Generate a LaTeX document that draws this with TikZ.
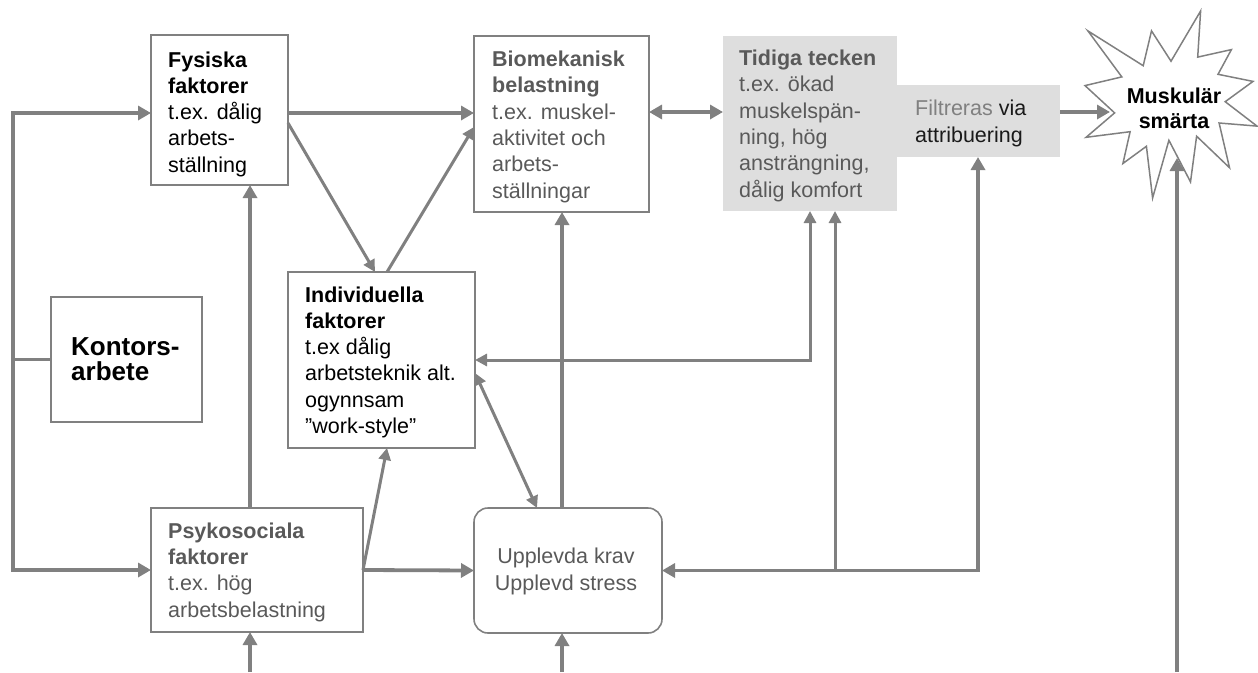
\documentclass[tikz,border=0pt]{standalone}
\usepackage{fontspec}
\setmainfont{Liberation Sans}
\usetikzlibrary{arrows.meta,calc}
\definecolor{lg}{HTML}{808080}
\definecolor{tg}{HTML}{595959}
\definecolor{fg}{HTML}{DEDEDE}
\definecolor{dk}{HTML}{1A1A1A}
\begin{document}
\begin{tikzpicture}[x=1pt,y=-1pt,
  box/.style={draw=lg, line width=1.6pt, rectangle, inner sep=0pt, outer sep=0pt},
  gbox/.style={fill=fg, draw=none, rectangle, inner sep=0pt, outer sep=0pt},
  txt/.style={inner sep=0pt, anchor=base west, align=left, font=\fontsize{21.5}{26.3}\selectfont},
  con/.style={draw=lg, line width=3.8pt},
  mid/.style={draw=lg, line width=3pt},
  tipA/.tip={Triangle[length=13pt,width=14pt]},
  tipB/.tip={Triangle[length=12pt,width=12pt]},
  arr/.style={con, -tipA},
  arrm/.style={mid, -tipB},
  dblm/.style={mid, tipB-tipB},
  dbl/.style={con, tipA-tipA}
]
\useasboundingbox (0,0) rectangle (1258,672);

% grey shapes
\node[gbox, minimum width=163pt, minimum height=72pt] (fil) at (978.5,121) {};
\node[gbox, minimum width=174pt, minimum height=175pt] (tid) at (810,123.5) {};

% boxes
\node[box, minimum width=137pt, minimum height=150pt] (fys) at (219.5,110) {};
\node[box, minimum width=175pt, minimum height=176pt] (bio) at (561.5,124) {};
\node[box, line width=2.8pt, minimum width=151pt, minimum height=125pt] (kon) at (126.5,359.5) {};
\node[box, minimum width=187pt, minimum height=176pt] (ind) at (381.5,360) {};
\node[box, minimum width=212pt, minimum height=124pt] (psy) at (257,570) {};
\node[box, rounded corners=14pt, minimum width=188pt, minimum height=125pt] (upp) at (568,570.5) {};

% star
\draw[draw=lg, line width=1.5pt, fill=white, line join=miter]
  (1171.0,61.2) -- (1200.6,11) -- (1197.7,57.1) -- (1231.4,49.6) -- (1218.0,74.3)
  -- (1253.0,81.4) -- (1225.2,101.7) -- (1257,126.1) -- (1219.1,123.0)
  -- (1229.5,167.7) -- (1196.6,136.2) -- (1190.5,181.9) -- (1168.9,140.3)
  -- (1152.6,198) -- (1146.4,146.3) -- (1122.9,163.5) -- (1130.1,131.7)
  -- (1086.1,137.3) -- (1114.6,112.9) -- (1085,85.6) -- (1121.8,76.9)
  -- (1087.9,30.9) -- (1143.2,65.7) -- (1151.5,30.9) -- cycle;

% texts (anchored at the baseline of the last line)
\node[txt] (fyst) at (168,172.2) {\textbf{Fysiska}\\\textbf{faktorer}\\t.ex. dålig\\arbets-\\ställning};
\node[txt, text=tg] (biot) at (492,198) {\textbf{Biomekanisk}\\\textbf{belastning}\\t.ex. muskel-\\aktivitet och\\arbets-\\ställningar};
\node[txt, text=tg] (tidt) at (739,197) {\textbf{Tidiga tecken}\\t.ex. ökad\\muskelspän-\\ning, hög\\ansträngning,\\dålig komfort};
\node[txt, text=dk] (filt) at (915,142) {\textcolor{lg}{Filtreras} via\\attribuering};
\node[txt] (indt) at (305,433.5) {\textbf{Individuella}\\\textbf{faktorer}\\t.ex dålig\\arbetsteknik alt.\\ogynnsam\\”work-style”};
\node[txt, text=tg] (psyt) at (168,617) {\textbf{Psykosociala}\\\textbf{faktorer}\\t.ex. hög\\arbetsbelastning};
\node[txt, font=\fontsize{26}{25}\selectfont\bfseries] (kont) at (71,380) {Kontors-\\arbete};
\node[inner sep=0pt, anchor=base, align=center, text=tg, font=\fontsize{21.5}{27}\selectfont] (uppt) at (566,590) {Upplevda krav\\Upplevd stress};
\node[inner sep=0pt, anchor=base, align=center, font=\fontsize{21.5}{25}\selectfont\bfseries] (must) at (1174,128) {Muskulär\\smärta};

% helper coordinates
\coordinate (bot) at (0,672);
\coordinate (tl) at (13,113);
\coordinate (bl) at (13,570);
\coordinate (ya) at (0,112);
\coordinate (xa) at (250,0);
\coordinate (xb) at (562,0);
\coordinate (xc) at (810,0);
\coordinate (xd) at (835,0);
\coordinate (xe) at (978,0);
\coordinate (xf) at (1177,0);
\coordinate (starL) at (1110,112);
\coordinate (starB) at (1177,158);

% connectors
\draw[dbl] (tl -| fys.west) -- (tl) -- (bl) -- (psy.west);
\draw[con] (kon.west) -- (kon.west -| tl);
\draw[arr] (tl -| fys.east) -- (tl -| bio.west);
\draw[arrm] ([yshift=-13pt]fys.east) -- ([xshift=-6.5pt]ind.north);
\draw[arrm] ([xshift=5.5pt]ind.north) -- ([yshift=-3pt]bio.west);
\draw[arr] (xa |- psy.north) -- (xa |- fys.south);
\draw[arr] (xa |- bot) -- (xa |- psy.south);
\draw[arrm] (psy.east) -- ([xshift=5.5pt]ind.south);
\draw[arr] (psy.east) -- (upp.west);
\draw[dblm] ([yshift=-13pt]ind.east) -- ([xshift=-31pt]upp.north);
\draw[arr] (xb |- upp.north) -- (xb |- bio.south);
\draw[arr] (xb |- bot) -- (xb |- upp.south);
\draw[dblm] (xc |- tid.south) -- (xc |- ind.east) -- (ind.east);
\draw[arrm] (xd |- upp.east) -- (xd |- tid.south);
\draw[dbl] (xe |- fil.south) -- (xe |- upp.east) -- (upp.east);
\draw[arr] (xf |- bot) -- (starB);
\draw[dbl] (ya -| bio.east) -- (ya -| tid.west);
\draw[arr] (ya -| fil.east) -- (starL);
\end{tikzpicture}
\end{document}
